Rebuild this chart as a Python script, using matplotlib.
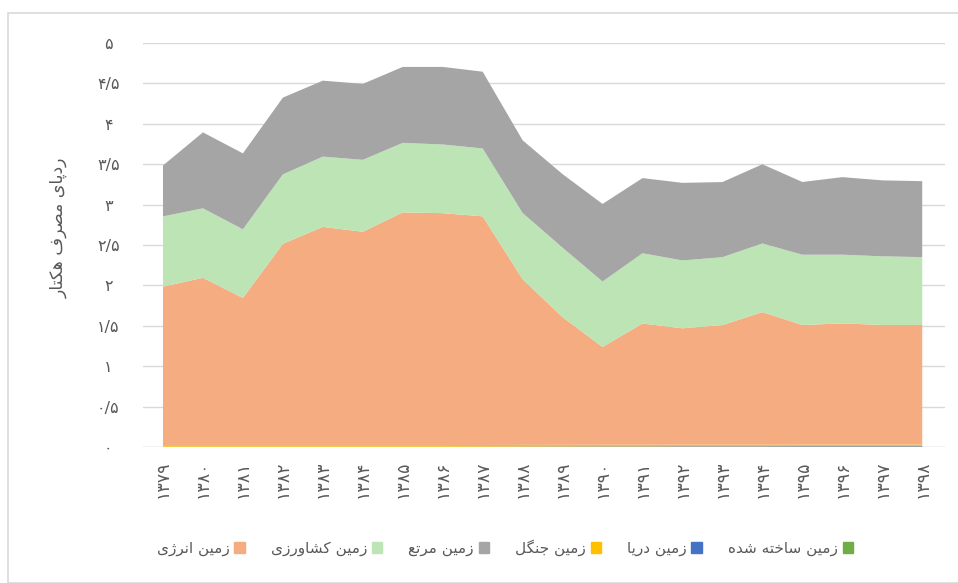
import numpy as np
from matplotlib import pyplot as plt
from matplotlib.patches import Rectangle, Patch

# minimal persian shaping: matplotlib does no arabic joining, so use presentation forms
forms = {
    'ا': ('\uFE8D', '\uFE8E', None, None),
    'پ': ('\uFB56', '\uFB57', '\uFB58', '\uFB59'),
    'ت': ('\uFE95', '\uFE96', '\uFE97', '\uFE98'),
    'ج': ('\uFE9D', '\uFE9E', '\uFE9F', '\uFEA0'),
    'خ': ('\uFEA5', '\uFEA6', '\uFEA7', '\uFEA8'),
    'د': ('\uFEA9', '\uFEAA', None, None),
    'ر': ('\uFEAD', '\uFEAE', None, None),
    'ز': ('\uFEAF', '\uFEB0', None, None),
    'ژ': ('\uFB8A', '\uFB8B', None, None),
    'س': ('\uFEB1', '\uFEB2', '\uFEB3', '\uFEB4'),
    'ش': ('\uFEB5', '\uFEB6', '\uFEB7', '\uFEB8'),
    'ص': ('\uFEB9', '\uFEBA', '\uFEBB', '\uFEBC'),
    'ع': ('\uFEC9', '\uFECA', '\uFECB', '\uFECC'),
    'ف': ('\uFED1', '\uFED2', '\uFED3', '\uFED4'),
    'ک': ('\uFB8E', '\uFB8F', '\uFB90', '\uFB91'),
    'گ': ('\uFB92', '\uFB93', '\uFB94', '\uFB95'),
    'ل': ('\uFEDD', '\uFEDE', '\uFEDF', '\uFEE0'),
    'م': ('\uFEE1', '\uFEE2', '\uFEE3', '\uFEE4'),
    'ن': ('\uFEE5', '\uFEE6', '\uFEE7', '\uFEE8'),
    'ه': ('\uFEE9', '\uFEEA', '\uFEEB', '\uFEEC'),
    'و': ('\uFEED', '\uFEEE', None, None),
    'ی': ('\uFBFC', '\uFBFD', '\uFBFE', '\uFBFF'),
}

def fa(s):
    out = []
    for i, c in enumerate(s):
        if c not in forms:
            out.append(c)
            continue
        prev = s[i-1] if i > 0 else ' '
        nxt = s[i+1] if i < len(s)-1 else ' '
        join_prev = prev in forms and forms[prev][2] is not None
        join_next = forms[c][2] is not None and nxt in forms
        iso, fin, ini, med = forms[c]
        if join_prev and join_next:
            out.append(med)
        elif join_prev:
            out.append(fin)
        elif join_next:
            out.append(ini)
        else:
            out.append(iso)
    return ''.join(out)[::-1]

years = ['۱۳۷۹', '۱۳۸۰', '۱۳۸۱', '۱۳۸۲', '۱۳۸۳', '۱۳۸۴', '۱۳۸۵', '۱۳۸۶', '۱۳۸۷', '۱۳۸۸',
         '۱۳۸۹', '۱۳۹۰', '۱۳۹۱', '۱۳۹۲', '۱۳۹۳', '۱۳۹۴', '۱۳۹۵', '۱۳۹۶', '۱۳۹۷', '۱۳۹۸']
built = [0.002, 0.002, 0.002, 0.002, 0.002, 0.002, 0.002, 0.002, 0.002, 0.002,
         0.002, 0.002, 0.002, 0.002, 0.002, 0.002, 0.002, 0.002, 0.002, 0.002]
sea = [0.002, 0.002, 0.002, 0.002, 0.002, 0.002, 0.002, 0.002, 0.003, 0.004,
       0.005, 0.006, 0.006, 0.007, 0.007, 0.007, 0.008, 0.008, 0.008, 0.008]
forest = [0.02, 0.02, 0.02, 0.02, 0.02, 0.02, 0.02, 0.02, 0.02, 0.02,
          0.02, 0.02, 0.02, 0.02, 0.02, 0.02, 0.02, 0.02, 0.02, 0.02]
energy = [1.96, 2.07, 1.82, 2.49, 2.70, 2.64, 2.88, 2.87, 2.83, 2.05,
          1.58, 1.21, 1.50, 1.44, 1.48, 1.64, 1.48, 1.50, 1.48, 1.48]
agri = [0.87, 0.86, 0.85, 0.86, 0.87, 0.89, 0.86, 0.85, 0.84, 0.82,
        0.86, 0.81, 0.87, 0.84, 0.84, 0.85, 0.87, 0.85, 0.85, 0.84]
pasture = [0.63, 0.94, 0.94, 0.95, 0.94, 0.94, 0.94, 0.96, 0.95, 0.90,
           0.91, 0.96, 0.93, 0.96, 0.93, 0.98, 0.90, 0.96, 0.94, 0.94]

yticks = [0, 0.5, 1, 1.5, 2, 2.5, 3, 3.5, 4, 4.5, 5]
ytick_labels = ['۰', '۰/۵', '۱', '۱/۵', '۲', '۲/۵', '۳', '۳/۵', '۴', '۴/۵', '۵']

names = ['زمین ساخته شده', 'زمین دریا', 'زمین جنگل', 'زمین انرژی', 'زمین کشاورزی', 'زمین مرتع']
colors = ['#70AD47', '#4472C4', '#FFC000', '#F4AC80', '#BDE4B5', '#A5A5A5']

plt.rcParams['font.family'] = ['DejaVu Sans']

fig = plt.figure(figsize=(9.58, 5.83), dpi=100)
fig.patches.append(Rectangle((8/958, 0), 1, 1 - 13/583, transform=fig.transFigure,
                             fill=False, edgecolor='#D9D9D9', lw=1.2))
ax = fig.add_axes([143/958, 1 - 447/583, (945-143)/958, (447-43)/583])

x = np.arange(len(years))
ax.stackplot(x, built, sea, forest, energy, agri, pasture, colors=colors, lw=0)

ax.set_xlim(-0.5, 19.57)
ax.set_ylim(0, 5)
ax.set_yticks(yticks)
ax.set_yticklabels(ytick_labels)
ax.set_xticks(x)
ax.set_xticklabels(years, rotation=90)
ax.tick_params(length=0, labelcolor='#595959')
ax.tick_params(axis='y', pad=25, labelsize=11.5)
ax.tick_params(axis='x', pad=10, labelsize=12.5)
for lab in ax.get_yticklabels():
    lab.set_horizontalalignment('center')
ax.grid(axis='y', color='#D9D9D9', lw=1)
ax.set_axisbelow(True)
for s in ax.spines.values():
    s.set_visible(False)
ax.axhline(0, color='#D9D9D9', lw=1, zorder=0)

ax.set_ylabel(fa('ردپای مصرف هکتار'), color='#595959', fontsize=12.5)
ax.yaxis.set_label_coords((68 - 143) / 802, (447 - 228) / 404)

# legend left to right: energy, agri, pasture, forest, sea, built
order = [3, 4, 5, 2, 1, 0]
handles = [Patch(color=colors[i]) for i in order]
labels = [fa(names[i]) for i in order]
fig.legend(handles, labels, loc='center', bbox_to_anchor=(505/958, 1 - 548/583), ncol=6,
           frameon=False, markerfirst=False, fontsize=11, labelcolor='#595959',
           handlelength=0.7, handleheight=0.7, handletextpad=0.3, columnspacing=1.7)

plt.savefig('out.png', dpi=100)
